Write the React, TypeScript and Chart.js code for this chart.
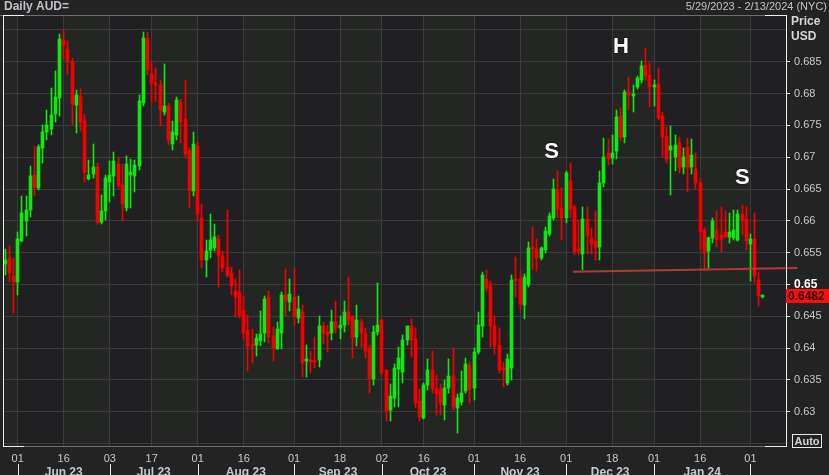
import React, { useEffect, useRef } from 'react';
import { Chart, registerables } from 'chart.js';

Chart.register(...registerables);

const START_DATE = '2023-05-29';
const END_DATE = '2024-02-13';

const openV = [
  0.6532, 0.6541, 0.6513, 0.6504, 0.6568, 0.6600, 0.6617, 0.6672, 0.6652, 0.6714,
  0.6740, 0.6744, 0.6768, 0.6793, 0.6885, 0.6870, 0.6850, 0.6782, 0.6795, 0.6757,
  0.6666, 0.6674, 0.6685, 0.6598, 0.6615, 0.6661, 0.6670, 0.6690, 0.6656, 0.6620,
  0.6672, 0.6670, 0.6686, 0.6786, 0.6888, 0.6831, 0.6817, 0.6813, 0.6771, 0.6780,
  0.6721, 0.6735, 0.6787, 0.6760, 0.6710, 0.6647, 0.6718, 0.6604, 0.6538, 0.6554,
  0.6558, 0.6572, 0.6544, 0.6528, 0.6518, 0.6490, 0.6488, 0.6458, 0.6428, 0.6406,
  0.6405, 0.6411, 0.6423, 0.6480, 0.6419, 0.6399, 0.6424, 0.6483, 0.6473, 0.6480,
  0.6448, 0.6456, 0.6380, 0.6381, 0.6381, 0.6381, 0.6435, 0.6426, 0.6424, 0.6441,
  0.6431, 0.6436, 0.6456, 0.6450, 0.6418, 0.6441, 0.6422, 0.6400, 0.6352, 0.6425,
  0.6444, 0.6365, 0.6303, 0.6321, 0.6367, 0.6362, 0.6413, 0.6434, 0.6414, 0.6316,
  0.6290, 0.6342, 0.6365, 0.6336, 0.6336, 0.6310, 0.6337, 0.6356, 0.6305, 0.6315,
  0.6333, 0.6373, 0.6337, 0.6394, 0.6434, 0.6508, 0.6497, 0.6434, 0.6404, 0.6369,
  0.6345, 0.6369, 0.6507, 0.6509, 0.6468, 0.6499, 0.6557, 0.6555, 0.6541, 0.6554,
  0.6579, 0.6605, 0.6649, 0.6620, 0.6605, 0.6663, 0.6621, 0.6554, 0.6548, 0.6603,
  0.6573, 0.6568, 0.6559, 0.6660, 0.6706, 0.6698, 0.6709, 0.6765, 0.6731, 0.6802,
  0.6796, 0.6810, 0.6821, 0.6845, 0.6829, 0.6810, 0.6815, 0.6765, 0.6733, 0.6711,
  0.6700, 0.6722, 0.6684, 0.6716, 0.6684, 0.6681, 0.6660, 0.6586, 0.6552, 0.6573,
  0.6586, 0.6578, 0.6582, 0.6574, 0.6573, 0.6570, 0.6611, 0.6603, 0.6564, 0.6571,
  0.6507, 0.6480,
];
const highV = [
  0.6556, 0.6560, 0.6541, 0.6582, 0.6639, 0.6639, 0.6686, 0.6718, 0.6719, 0.6751,
  0.6774, 0.6809, 0.6835, 0.6893, 0.6900, 0.6883, 0.6856, 0.6806, 0.6807, 0.6768,
  0.6695, 0.6721, 0.6691, 0.6640, 0.6672, 0.6694, 0.6708, 0.6699, 0.6689, 0.6702,
  0.6697, 0.6695, 0.6798, 0.6897, 0.6897, 0.6850, 0.6840, 0.6821, 0.6846, 0.6786,
  0.6757, 0.6795, 0.6792, 0.6821, 0.6714, 0.6740, 0.6724, 0.6627, 0.6570, 0.6611,
  0.6595, 0.6577, 0.6552, 0.6617, 0.6528, 0.6509, 0.6522, 0.6482, 0.6452, 0.6430,
  0.6422, 0.6458, 0.6482, 0.6489, 0.6433, 0.6441, 0.6488, 0.6524, 0.6508, 0.6524,
  0.6482, 0.6467, 0.6405, 0.6396, 0.6417, 0.6451, 0.6441, 0.6436, 0.6460, 0.6474,
  0.6451, 0.6474, 0.6512, 0.6451, 0.6467, 0.6446, 0.6432, 0.6404, 0.6434, 0.6503,
  0.6445, 0.6365, 0.6344, 0.6375, 0.6401, 0.6420, 0.6434, 0.6445, 0.6431, 0.6335,
  0.6345, 0.6382, 0.6395, 0.6358, 0.6344, 0.6349, 0.6382, 0.6400, 0.6328, 0.6364,
  0.6384, 0.6378, 0.6400, 0.6456, 0.6520, 0.6523, 0.6506, 0.6450, 0.6431, 0.6378,
  0.6391, 0.6515, 0.6543, 0.6521, 0.6517, 0.6567, 0.6590, 0.6571, 0.6559, 0.6591,
  0.6612, 0.6665, 0.6678, 0.6651, 0.6678, 0.6691, 0.6625, 0.6601, 0.6622, 0.6621,
  0.6589, 0.6615, 0.6678, 0.6730, 0.6728, 0.6735, 0.6775, 0.6777, 0.6806, 0.6826,
  0.6813, 0.6828, 0.6851, 0.6872, 0.6848, 0.6822, 0.6840, 0.6771, 0.6748, 0.6749,
  0.6735, 0.6732, 0.6714, 0.6730, 0.6728, 0.6706, 0.6665, 0.6589, 0.6574, 0.6605,
  0.6615, 0.6622, 0.6615, 0.6612, 0.6617, 0.6617, 0.6625, 0.6622, 0.6579, 0.6612,
  0.6520, 0.6484,
];
const lowV = [
  0.6515, 0.6504, 0.6455, 0.6484, 0.6567, 0.6576, 0.6606, 0.6639, 0.6648, 0.6691,
  0.6727, 0.6735, 0.6755, 0.6765, 0.6853, 0.6831, 0.6750, 0.6738, 0.6741, 0.6661,
  0.6664, 0.6667, 0.6595, 0.6595, 0.6601, 0.6630, 0.6639, 0.6650, 0.6599, 0.6615,
  0.6620, 0.6646, 0.6680, 0.6780, 0.6829, 0.6785, 0.6787, 0.6749, 0.6766, 0.6719,
  0.6711, 0.6727, 0.6723, 0.6699, 0.6620, 0.6639, 0.6600, 0.6526, 0.6511, 0.6541,
  0.6552, 0.6496, 0.6520, 0.6512, 0.6483, 0.6449, 0.6448, 0.6414, 0.6364, 0.6377,
  0.6387, 0.6403, 0.6410, 0.6408, 0.6380, 0.6398, 0.6399, 0.6450, 0.6458, 0.6436,
  0.6439, 0.6355, 0.6355, 0.6361, 0.6368, 0.6370, 0.6407, 0.6394, 0.6413, 0.6423,
  0.6414, 0.6426, 0.6436, 0.6384, 0.6403, 0.6401, 0.6384, 0.6329, 0.6342, 0.6420,
  0.6358, 0.6285, 0.6286, 0.6308, 0.6308, 0.6345, 0.6404, 0.6386, 0.6305, 0.6285,
  0.6289, 0.6334, 0.6329, 0.6294, 0.6294, 0.6287, 0.6329, 0.6302, 0.6266, 0.6310,
  0.6330, 0.6313, 0.6318, 0.6391, 0.6418, 0.6489, 0.6402, 0.6391, 0.6361, 0.6338,
  0.6342, 0.6350, 0.6481, 0.6460, 0.6445, 0.6496, 0.6523, 0.6521, 0.6538, 0.6550,
  0.6576, 0.6601, 0.6605, 0.6570, 0.6596, 0.6604, 0.6547, 0.6546, 0.6523, 0.6548,
  0.6548, 0.6538, 0.6539, 0.6653, 0.6688, 0.6690, 0.6697, 0.6725, 0.6723, 0.6774,
  0.6771, 0.6807, 0.6816, 0.6821, 0.6779, 0.6780, 0.6759, 0.6701, 0.6691, 0.6641,
  0.6678, 0.6675, 0.6674, 0.6646, 0.6674, 0.6650, 0.6554, 0.6523, 0.6526, 0.6565,
  0.6559, 0.6551, 0.6573, 0.6565, 0.6570, 0.6568, 0.6578, 0.6554, 0.6506, 0.6502,
  0.6466, 0.6479,
];
const closeV = [
  0.6539, 0.6518, 0.6504, 0.6571, 0.6612, 0.6617, 0.6670, 0.6652, 0.6716, 0.6740,
  0.6751, 0.6766, 0.6795, 0.6886, 0.6877, 0.6850, 0.6784, 0.6798, 0.6755, 0.6677,
  0.6672, 0.6685, 0.6598, 0.6615, 0.6667, 0.6672, 0.6694, 0.6654, 0.6626, 0.6690,
  0.6677, 0.6687, 0.6788, 0.6888, 0.6837, 0.6817, 0.6813, 0.6774, 0.6780, 0.6727,
  0.6740, 0.6790, 0.6755, 0.6705, 0.6648, 0.6721, 0.6611, 0.6538, 0.6552, 0.6570,
  0.6574, 0.6544, 0.6526, 0.6513, 0.6498, 0.6481, 0.6452, 0.6424, 0.6403, 0.6402,
  0.6416, 0.6422, 0.6477, 0.6418, 0.6400, 0.6430, 0.6483, 0.6475, 0.6485, 0.6451,
  0.6461, 0.6377, 0.6383, 0.6378, 0.6378, 0.6434, 0.6424, 0.6420, 0.6441, 0.6431,
  0.6436, 0.6456, 0.6444, 0.6418, 0.6444, 0.6423, 0.6396, 0.6351, 0.6426, 0.6436,
  0.6361, 0.6301, 0.6325, 0.6368, 0.6384, 0.6413, 0.6434, 0.6413, 0.6314, 0.6291,
  0.6342, 0.6365, 0.6336, 0.6328, 0.6313, 0.6337, 0.6356, 0.6308, 0.6321, 0.6329,
  0.6375, 0.6335, 0.6394, 0.6436, 0.6515, 0.6495, 0.6434, 0.6403, 0.6366, 0.6365,
  0.6382, 0.6507, 0.6505, 0.6469, 0.6511, 0.6558, 0.6555, 0.6541, 0.6558, 0.6584,
  0.6608, 0.6650, 0.6618, 0.6605, 0.6675, 0.6618, 0.6551, 0.6552, 0.6603, 0.6576,
  0.6563, 0.6557, 0.6660, 0.6700, 0.6697, 0.6706, 0.6763, 0.6730, 0.6803, 0.6798,
  0.6798, 0.6824, 0.6844, 0.6828, 0.6810, 0.6812, 0.6761, 0.6731, 0.6697, 0.6717,
  0.6719, 0.6683, 0.6700, 0.6683, 0.6703, 0.6660, 0.6583, 0.6550, 0.6573, 0.6600,
  0.6570, 0.6570, 0.6575, 0.6582, 0.6586, 0.6611, 0.6601, 0.6568, 0.6571, 0.6513,
  0.6482, 0.6482,
];

const dayTicks = [
  '2023-06-01', '2023-06-16', '2023-07-03', '2023-07-17', '2023-08-01', '2023-08-16',
  '2023-09-01', '2023-09-18', '2023-10-02', '2023-10-16', '2023-11-01', '2023-11-16',
  '2023-12-01', '2023-12-18', '2024-01-01', '2024-01-16', '2024-02-01',
];
const monthStarts = [
  '2023-06-01', '2023-07-03', '2023-08-01', '2023-09-01', '2023-10-02',
  '2023-11-01', '2023-12-01', '2024-01-01', '2024-02-01',
];
const monthLabels = ['Jun 23', 'Jul 23', 'Aug 23', 'Sep 23', 'Oct 23', 'Nov 23', 'Dec 23', 'Jan 24'];
const yTickValues = [0.625, 0.63, 0.635, 0.64, 0.645, 0.65, 0.655, 0.66, 0.665, 0.67, 0.675, 0.68, 0.685, 0.69];
const yLabelled = [0.63, 0.635, 0.64, 0.645, 0.65, 0.655, 0.66, 0.665, 0.67, 0.675, 0.68, 0.685];
const boldTick = 0.65;
const lastPrice = 0.6482;

// pattern annotations (category index, price)
const patternText = ['S', 'H', 'S'];
const patternIdx = [130.5, 147.1, 176.1];
const patternPrice = [0.6711, 0.6876, 0.6671];
// neckline (category index, price)
const necklineIdx = [135.6, 189.2];
const necklinePrice = [0.6520, 0.6526];

const Y_MIN = 0.6246;
const Y_MAX = 0.6922;

const GREEN = '#10e810';
const RED = '#f50000';
const PAGE_BG = '#222322';
const BAND_A = '#232622';
const BAND_B = '#201f22';
const GRID = '#3b3b3b';
const TEXT = '#c6cad0';
const FONT = "'Liberation Sans', Arial, sans-serif";

const dates: string[] = [];
{
  const s = new Date(START_DATE + 'T00:00:00Z');
  const e = new Date(END_DATE + 'T00:00:00Z');
  for (let d = new Date(s); d <= e; d.setUTCDate(d.getUTCDate() + 1)) {
    const w = d.getUTCDay();
    if (w === 0 || w === 6) continue;
    dates.push(d.toISOString().slice(0, 10));
  }
}

const isClose = (a: number, b: number) => Math.abs(a - b) < 1e-9;

const decorPlugin = {
  id: 'decor',
  beforeDraw(chart: any) {
    const { ctx, chartArea: a, scales } = chart;
    const x = scales.x;
    ctx.save();
    ctx.fillStyle = PAGE_BG;
    ctx.fillRect(0, 0, chart.width, chart.height);
    const px = dayTicks.map((d) => x.getPixelForValue(dates.indexOf(d)));
    const edges = [a.left, ...px, a.right];
    for (let k = 0; k < edges.length - 1; k++) {
      ctx.fillStyle = k % 2 === 0 ? BAND_A : BAND_B;
      ctx.fillRect(edges[k], a.top, edges[k + 1] - edges[k], a.bottom - a.top);
    }
    ctx.restore();
  },
  beforeDatasetsDraw(chart: any) {
    // snap bar elements to the pixel grid for crisp candles
    chart.data.datasets.forEach((_ds: any, i: number) => {
      const meta = chart.getDatasetMeta(i);
      meta.data.forEach((el: any) => {
        if (el.x == null) return;
        el.x = Math.floor(el.x) + 0.5;
        el.y = Math.round(el.y);
        el.base = Math.round(el.base);
        if (el.y === el.base) el.base = el.y + 1;
      });
    });
  },
  afterDatasetsDraw(chart: any) {
    const { ctx, scales } = chart;
    const x = scales.x;
    const y = scales.y;
    ctx.save();
    ctx.strokeStyle = 'rgba(205,60,60,0.85)';
    ctx.lineWidth = 2;
    ctx.beginPath();
    ctx.moveTo(x.getPixelForValue(necklineIdx[0]), y.getPixelForValue(necklinePrice[0]));
    ctx.lineTo(x.getPixelForValue(necklineIdx[1]), y.getPixelForValue(necklinePrice[1]));
    ctx.stroke();
    ctx.font = `bold 22px ${FONT}`;
    ctx.textAlign = 'center';
    ctx.textBaseline = 'alphabetic';
    ctx.fillStyle = '#ffffff';
    ctx.shadowColor = 'rgba(0,0,0,0.9)';
    ctx.shadowBlur = 2;
    for (let k = 0; k < patternText.length; k++) {
      const px = x.getPixelForValue(patternIdx[k]);
      const py = y.getPixelForValue(patternPrice[k]);
      ctx.fillText(patternText[k], px, py + 8);
    }
    ctx.restore();
  },
  afterDraw(chart: any) {
    const { ctx, chartArea: a, scales } = chart;
    const x = scales.x;
    const y = scales.y;
    const W = chart.width;
    ctx.save();
    ctx.lineWidth = 1;
    ctx.strokeStyle = '#6e6e6e';
    ctx.beginPath();
    ctx.moveTo(0, a.top - 0.5);
    ctx.lineTo(a.right, a.top - 0.5);
    ctx.moveTo(a.left, a.bottom + 0.5);
    ctx.lineTo(a.right, a.bottom + 0.5);
    ctx.stroke();
    ctx.strokeStyle = '#f0f0f0';
    ctx.beginPath();
    ctx.moveTo(a.left + 0.5, a.top - 1);
    ctx.lineTo(a.left + 0.5, a.bottom + 1);
    ctx.moveTo(a.right + 0.5, a.top - 1);
    ctx.lineTo(a.right + 0.5, a.bottom + 1);
    ctx.moveTo(a.left, a.top - 0.5);
    ctx.lineTo(a.left + 21, a.top - 0.5);
    ctx.moveTo(a.left, a.bottom + 0.5);
    ctx.lineTo(a.left + 21, a.bottom + 0.5);
    ctx.moveTo(a.right - 21, a.top - 0.5);
    ctx.lineTo(a.right, a.top - 0.5);
    ctx.moveTo(a.right - 21, a.bottom + 0.5);
    ctx.lineTo(a.right, a.bottom + 0.5);
    ctx.stroke();

    const mpx = monthStarts.map((d) => x.getPixelForValue(dates.indexOf(d)));
    ctx.strokeStyle = '#e8e8e8';
    ctx.beginPath();
    for (const p of mpx) {
      const xx = Math.round(p) + 0.5;
      ctx.moveTo(xx, 464);
      ctx.lineTo(xx, chart.height);
    }
    ctx.stroke();
    ctx.fillStyle = TEXT;
    ctx.font = `bold 12px ${FONT}`;
    ctx.textAlign = 'center';
    ctx.textBaseline = 'alphabetic';
    for (let k = 0; k < monthLabels.length; k++) {
      ctx.fillText(monthLabels[k], (mpx[k] + mpx[k + 1]) / 2, 476);
    }

    ctx.textAlign = 'left';
    ctx.textBaseline = 'middle';
    ctx.font = `bold 12px ${FONT}`;
    ctx.fillStyle = '#bfc4ca';
    ctx.fillText('Daily AUD=', 4, 7);
    ctx.textAlign = 'right';
    ctx.font = `11px ${FONT}`;
    ctx.fillText('5/29/2023 - 2/13/2024 (NYC)', W - 2, 7);

    ctx.textAlign = 'left';
    ctx.font = `bold 12px ${FONT}`;
    ctx.fillStyle = '#d4d8dc';
    ctx.fillText('Price', 791, 22);
    ctx.fillText('USD', 791, 37);

    const ly = y.getPixelForValue(lastPrice);
    ctx.fillStyle = '#ff0d0d';
    ctx.fillRect(a.right, Math.round(ly) - 7, W - a.right, 14);
    ctx.fillStyle = '#1a0000';
    ctx.font = `bold 12px ${FONT}`;
    ctx.textBaseline = 'middle';
    ctx.fillText(lastPrice.toFixed(4), a.right + 2, Math.round(ly) + 0.5);

    ctx.strokeStyle = '#e8e8e8';
    ctx.strokeRect(792.5, 434.5, 29, 13);
    ctx.fillStyle = '#d0d4d8';
    ctx.font = `bold 11px ${FONT}`;
    ctx.textAlign = 'center';
    ctx.fillText('Auto', 807, 441.5);
    ctx.restore();
  },
};

export default function App() {
  const canvasRef = useRef<HTMLCanvasElement | null>(null);

  useEffect(() => {
    document.body.style.margin = '0';
    document.body.style.background = PAGE_BG;
    const canvas = canvasRef.current;
    if (!canvas) return;

    const colors = closeV.map((c, i) => (c >= openV[i] ? GREEN : RED));
    const tickSet = new Set(dayTicks);

    const chart = new Chart(canvas, {
      type: 'bar',
      data: {
        labels: dates,
        datasets: [
          {
            label: 'wick',
            data: lowV.map((l, i) => [l, highV[i]]),
            backgroundColor: colors,
            borderWidth: 0,
            barThickness: 1,
            grouped: false,
            order: 2,
          } as any,
          {
            label: 'body',
            data: openV.map((o, i) => [o, closeV[i]]),
            backgroundColor: colors,
            borderWidth: 0,
            barThickness: 3,
            minBarLength: 2,
            grouped: false,
            order: 1,
          } as any,
        ],
      },
      options: {
        animation: false,
        responsive: true,
        maintainAspectRatio: false,
        events: [],
        layout: { padding: { top: 16, left: 3, right: 0, bottom: 0 } },
        plugins: {
          legend: { display: false },
          tooltip: { enabled: false },
          title: { display: false },
        },
        scales: {
          x: {
            type: 'category',
            offset: true,
            border: { display: false },
            grid: {
              offset: false,
              color: GRID,
              drawTicks: false,
              lineWidth: 1,
            },
            ticks: {
              autoSkip: false,
              maxRotation: 0,
              minRotation: 0,
              padding: 6,
              color: TEXT,
              font: { family: FONT, size: 11 },
              callback: (_v: any, i: number) => (tickSet.has(dates[i]) ? dates[i].slice(8, 10) : null),
            },
            afterFit: (s: any) => {
              s.height = 29;
            },
          },
          y: {
            type: 'linear',
            position: 'right',
            min: Y_MIN,
            max: Y_MAX,
            border: { display: false },
            grid: {
              color: GRID,
              drawTicks: true,
              tickLength: 4,
              tickColor: (ctx: any) =>
                ctx.tick && yLabelled.some((v) => isClose(v, ctx.tick.value)) ? '#e8e8e8' : 'rgba(0,0,0,0)',
            },
            afterBuildTicks: (s: any) => {
              s.ticks = yTickValues.map((v) => ({ value: v }));
            },
            ticks: {
              padding: 4,
              color: (ctx: any) => (ctx.tick && isClose(ctx.tick.value, boldTick) ? '#ffffff' : TEXT),
              font: (ctx: any) =>
                ctx.tick && isClose(ctx.tick.value, boldTick)
                  ? { family: FONT, size: 12, weight: 'bold' }
                  : { family: FONT, size: 11 },
              callback: (v: any) => (yLabelled.some((t) => isClose(t, Number(v))) ? String(Number(v)) : ''),
            },
            afterFit: (s: any) => {
              s.width = 43;
            },
          },
        },
      } as any,
      plugins: [decorPlugin as any],
    });

    return () => chart.destroy();
  }, []);

  return (
    <div style={{ position: 'relative', width: '829px', height: '475px' }}>
      <canvas ref={canvasRef} />
    </div>
  );
}
